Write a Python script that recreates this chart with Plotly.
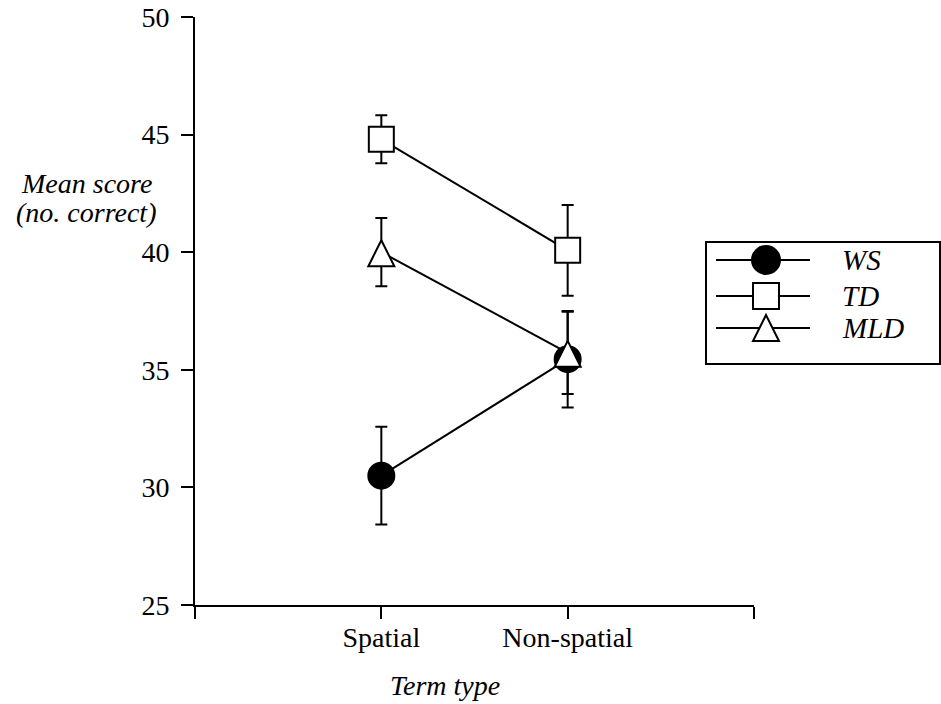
import plotly.graph_objects as go

# ---- data ----
categories = ["Spatial", "Non-spatial"]
cat_pos = [1, 2]
series_names = ["WS", "TD", "MLD"]
ws_mean = [30.5, 35.45]
ws_err = [2.08, 2.05]
td_mean = [44.8, 40.08]
td_err = [1.02, 1.93]
mld_mean = [40.0, 35.72]
mld_err = [1.45, 1.75]
y_ticks = [25, 30, 35, 40, 45, 50]
x_ticks = [0, 1, 2, 3]
x_ticktext = ["", "Spatial", "Non-spatial", ""]
y_title_lines = ["Mean score", "(no. correct)"]
x_title = "Term type"

FONT = "Liberation Serif"

# plot area in pixels
L, R, T, B = 195, 754, 17, 605
W, H = R - L, B - T
FIG_W, FIG_H = 941, 704


def px(x):
    return (x - L) / W


def py(y):
    return (B - y) / H


fig = go.Figure()

common_line = dict(color="black", width=2)
err_style = dict(type="data", visible=True, color="black", thickness=2, width=6)

fig.add_trace(go.Scatter(
    x=cat_pos, y=ws_mean, name=series_names[0], mode="lines+markers",
    line=common_line,
    marker=dict(symbol="circle", size=26, color="black", line=dict(color="black", width=2)),
    error_y=dict(array=ws_err, **err_style),
))
fig.add_trace(go.Scatter(
    x=cat_pos, y=td_mean, name=series_names[1], mode="lines+markers",
    line=common_line,
    marker=dict(symbol="square", size=25, color="white", line=dict(color="black", width=2)),
    error_y=dict(array=td_err, **err_style),
))
fig.add_trace(go.Scatter(
    x=cat_pos, y=mld_mean, name=series_names[2], mode="lines+markers",
    line=common_line,
    marker=dict(symbol="arrow-down", angle=180, standoff=12, size=26, color="white",
                line=dict(color="black", width=2)),
    error_y=dict(array=mld_err, **err_style),
))

# ---- custom legend ----
shapes = []
shapes.append(dict(type="rect", xref="paper", yref="paper",
                   x0=px(706), x1=px(940), y0=py(364), y1=py(242),
                   line=dict(color="black", width=2), fillcolor="rgba(0,0,0,0)"))
rows = [260, 296, 328]
for ry in rows:
    shapes.append(dict(type="line", xref="paper", yref="paper",
                       x0=px(716), x1=px(810), y0=py(ry), y1=py(ry),
                       line=dict(color="black", width=2)))
cx = 766
shapes.append(dict(type="circle", xref="paper", yref="paper",
                   x0=px(cx - 14), x1=px(cx + 14), y0=py(rows[0] + 14), y1=py(rows[0] - 14),
                   line=dict(color="black", width=2), fillcolor="black"))
shapes.append(dict(type="rect", xref="paper", yref="paper",
                   x0=px(cx - 13), x1=px(cx + 13), y0=py(rows[1] + 13), y1=py(rows[1] - 13),
                   line=dict(color="black", width=2), fillcolor="white"))
tri = "M {:.5f},{:.5f} L {:.5f},{:.5f} L {:.5f},{:.5f} Z".format(
    px(cx), py(rows[2] - 13), px(cx - 13), py(rows[2] + 13), px(cx + 13), py(rows[2] + 13))
shapes.append(dict(type="path", xref="paper", yref="paper", path=tri,
                   line=dict(color="black", width=2), fillcolor="white"))

annotations = []
for name, ry in zip(series_names, rows):
    annotations.append(dict(text="<i>%s</i>" % name, xref="paper", yref="paper",
                            x=px(840), y=py(ry), xanchor="left", yanchor="middle",
                            showarrow=False, font=dict(family=FONT, size=29, color="black")))

for txt, ty in zip(y_title_lines, [183, 212]):
    annotations.append(dict(text="<i>%s</i>" % txt, xref="paper", yref="paper",
                            x=px(86), y=py(ty), xanchor="center", yanchor="middle",
                            showarrow=False, font=dict(family=FONT, size=28, color="black")))
annotations.append(dict(text="<i>%s</i>" % x_title, xref="paper", yref="paper",
                        x=px(445), y=py(685), xanchor="center", yanchor="middle",
                        showarrow=False, font=dict(family=FONT, size=28, color="black")))

fig.update_layout(
    width=FIG_W, height=FIG_H,
    margin=dict(l=L, r=FIG_W - R, t=T, b=FIG_H - B, pad=0, autoexpand=False),
    paper_bgcolor="white", plot_bgcolor="white",
    showlegend=False,
    font=dict(family=FONT, color="black"),
    shapes=shapes, annotations=annotations,
    xaxis=dict(range=[0, 3], tickvals=x_ticks, ticktext=x_ticktext, automargin=False,
               showgrid=False, zeroline=False, showline=True, linecolor="black", linewidth=2,
               ticks="outside", ticklen=12, tickwidth=2, tickcolor="black",
               ticklabelstandoff=-6,
               tickfont=dict(family=FONT, size=28, color="black")),
    yaxis=dict(range=[25, 50], tickvals=y_ticks, automargin=False,
               showgrid=False, zeroline=False, showline=True, linecolor="black", linewidth=2,
               ticks="outside", ticklen=12, tickwidth=2, tickcolor="black",
               ticklabelstandoff=6,
               tickfont=dict(family=FONT, size=28, color="black")),
)

fig.write_html("out.html", config={"displayModeBar": False},
               post_script="document.body.style.margin='0';document.body.style.overflow='hidden';")
